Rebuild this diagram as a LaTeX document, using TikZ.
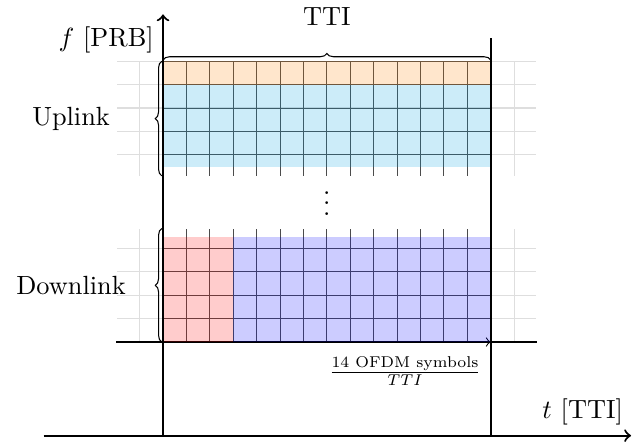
\documentclass[tikz,border=0pt]{standalone}
\usepackage{amsmath}
\usetikzlibrary{decorations.pathreplacing}
\definecolor{ulblue}{RGB}{0,160,225}
\tikzset{
  bggrid/.style={draw=black!13, line width=0.4pt, step=1},
  fggrid/.style={draw=black!70, line width=0.35pt, step=1},
  axis/.style={thick, ->},
  edge/.style={thick},
  band/.style={fill opacity=0.2},
  bracedeco/.style={decorate, decoration={brace, amplitude=2.5pt}},
}
\begin{document}
\begin{tikzpicture}[x=0.3125cm, y=0.3125cm]
\useasboundingbox (-6.966,-4.40) rectangle (20.51,14.615);

% resource grids: light outer grid, dark grid over one TTI
\draw[bggrid] (-1.95,7.1) grid (15.95,12);
\draw[bggrid] (-1.95,0) grid (15.95,4.85);
\draw[fggrid] (0,7.1) grid (14,12);
\draw[fggrid] (0,0) grid (14,4.85);

% baseline of the downlink band and the symbol arrow
\coordinate (o) at (0,0);
\coordinate (e) at (14,0);
\coordinate (gl) at (-2,0);
\coordinate (gr) at (16,0);
\draw[edge] (gl) -- (gr);
\draw[->] (o) -- (e);
\node (sym) [scale=0.85] at (10.34,-1.25) {$\frac{\text{14 OFDM symbols}}{TTI}$};

% allocations
\fill[band, fill=orange] (0,11) rectangle (14,12);
\fill[band, fill=ulblue] (0,7.5) rectangle (14,11);
\fill[band, fill=red] (0,0) rectangle (3,4.5);
\fill[band, fill=blue] (3,0) rectangle (14,4.5);

% axes and TTI boundary
\coordinate (yb) at (0,-4);
\coordinate (yt) at (0,14);
\coordinate (xl) at (-5.1,-4);
\coordinate (xr) at (20,-4);
\coordinate (eb) at (14,-4);
\coordinate (et) at (14,13);
\draw[axis] (yb) -- (yt);
\draw[axis] (xl) -- (xr);
\draw[edge] (eb) -- (et);

% braces
\coordinate (ulb) at (-0.05,7.1);
\coordinate (ult) at (-0.05,12);
\coordinate (dlb) at (-0.05,0);
\coordinate (dlt) at (-0.05,4.85);
\coordinate (ttil) at (0,12.05);
\coordinate (ttir) at (14,12.05);
\draw[bracedeco] (ulb) -- (ult);
\draw[bracedeco] (dlb) -- (dlt);
\draw[bracedeco] (ttil) -- (ttir);

% labels
\node (fl) [left] at (0,12.9) {$f$ [PRB]};
\node (tl) at (17.93,-3.0) {$t$ [TTI]};
\node (tti) at (7,13.93) {TTI};
\node (ul) at (-3.93,9.55) {Uplink};
\node (dl) at (-3.93,2.43) {Downlink};
\node (dots) at (7,6.27) {$\vdots$};
\end{tikzpicture}
\end{document}
